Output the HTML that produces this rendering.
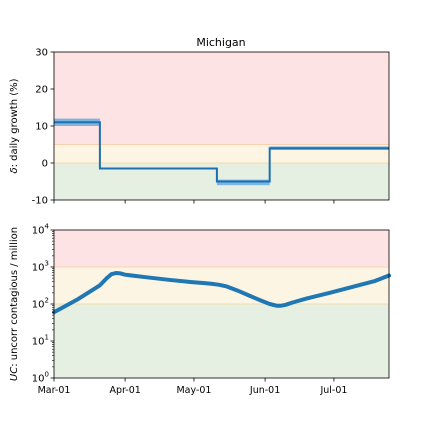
<!DOCTYPE html>
<html><head><meta charset="utf-8"><style>
body{margin:0;background:#fff}
svg{font-family:"DejaVu Sans","Liberation Sans",sans-serif}
</style></head><body>
<svg id="c" width="432" height="432" xmlns="http://www.w3.org/2000/svg">
<text x="221" y="46" font-size="11" text-anchor="middle">Michigan</text>
<g id="topPanel"></g>
<g id="botPanel"></g>
<text transform="translate(17,126) rotate(-90)" font-size="10" text-anchor="middle"><tspan font-style="italic">δ</tspan>: daily growth (%)</text>
<text transform="translate(17,304) rotate(-90)" font-size="10" text-anchor="middle"><tspan font-style="italic">UC</tspan>: uncorr contagious / million</text>
</svg>
<script>
const xTickLabels=["Mar-01","Apr-01","May-01","Jun-01","Jul-01"];
const xTickDays=[0,31,61,92,122];
const stepStart=[0,20,71,94];
const stepEnd=[20,71,94,146];
const stepValue=[11,-1.5,-5,4];
const stepLow=[10,-1.5,-6,3.5];
const stepHigh=[12,-1.5,-4.5,4.5];
const topTicks=[-10,0,10,20,30];
const ucDays=[0,10,20,23,25,27,29,31,40,50,60,65,69,72,75,80,85,90,94,97,99,101,104,110,120,130,140,146];
const ucValues=[60,130,320,500,640,690,670,620,530,450,390,370,350,330,300,230,170,125,100,90,90,95,110,140,200,290,420,590];
const botTicks=[0,1,2,3,4];
const NS="http://www.w3.org/2000/svg";
const X0=54,X1=389,D1=146;
const x=d=>X0+(X1-X0)*d/D1;
const yT=v=>200-(v+10)*148/40;
const yB=v=>378-Math.log10(v)*37;
function el(p,t,a){const e=document.createElementNS(NS,t);for(const k in a)e.setAttribute(k,a[k]);p.appendChild(e);return e;}
const gTop=document.getElementById('topPanel'),gBot=document.getElementById('botPanel');
let r=el(gTop,'rect',{x:X0,y:52,width:X1-X0,height:yT(5)-52,fill:'#fde3e3'});


r=el(gTop,'rect',{x:X0,y:yT(5),width:X1-X0,height:yT(0)-yT(5),fill:'#fdf5e4'});


r=el(gTop,'rect',{x:X0,y:yT(0),width:X1-X0,height:200-yT(0),fill:'#e5f0e2'});


el(gTop,'line',{x1:X0,x2:X1,y1:yT(5),y2:yT(5),stroke:'#fbd0b0','stroke-width':1});
el(gTop,'line',{x1:X0,x2:X1,y1:yT(0),y2:yT(0),stroke:'#f3dcb0','stroke-width':1});
for(let i=0;i<stepStart.length;i++){
 if(stepHigh[i]>stepLow[i]){
  const b=el(gTop,'rect',{x:x(stepStart[i]),y:yT(stepHigh[i]),width:x(stepEnd[i])-x(stepStart[i]),height:yT(stepLow[i])-yT(stepHigh[i]),fill:'#5fa8e0','fill-opacity':0.8});
  
  
 }
}
let d='';
for(let i=0;i<stepStart.length;i++){d+=(i?'L':'M')+x(stepStart[i])+','+yT(stepValue[i])+'L'+x(stepEnd[i])+','+yT(stepValue[i]);}
let p=el(gTop,'path',{d:d,fill:'none',stroke:'#1f6fb0','stroke-width':2});


el(gTop,'rect',{x:X0,y:52,width:X1-X0,height:148,fill:'none',stroke:'#000','stroke-width':0.8});
topTicks.forEach(v=>{
 el(gTop,'line',{x1:X0-3.5,x2:X0,y1:yT(v),y2:yT(v),stroke:'#000','stroke-width':0.8});
 const t=el(gTop,'text',{x:X0-6,y:yT(v)+3.5,'font-size':10,'text-anchor':'end'});t.textContent=v;
 
 
});
xTickDays.forEach(dd=>el(gTop,'line',{x1:x(dd),x2:x(dd),y1:200,y2:203.5,stroke:'#000','stroke-width':0.8}));
r=el(gBot,'rect',{x:X0,y:230,width:X1-X0,height:yB(1000)-230,fill:'#fde3e3'});


r=el(gBot,'rect',{x:X0,y:yB(1000),width:X1-X0,height:yB(100)-yB(1000),fill:'#fdf5e4'});


r=el(gBot,'rect',{x:X0,y:yB(100),width:X1-X0,height:378-yB(100),fill:'#e5f0e2'});


el(gBot,'line',{x1:X0,x2:X1,y1:yB(1000),y2:yB(1000),stroke:'#fbd0b0','stroke-width':1});
el(gBot,'line',{x1:X0,x2:X1,y1:yB(100),y2:yB(100),stroke:'#f3dcb0','stroke-width':1});
d='';
ucDays.forEach((dd,i)=>{d+=(i?'L':'M')+x(dd).toFixed(1)+','+yB(ucValues[i]).toFixed(1);});
p=el(gBot,'path',{d:d,fill:'none',stroke:'#1f77b4','stroke-width':4,'stroke-linejoin':'round','stroke-linecap':'round'});


el(gBot,'rect',{x:X0,y:230,width:X1-X0,height:148,fill:'none',stroke:'#000','stroke-width':0.8});
botTicks.forEach(e=>{
 el(gBot,'line',{x1:X0-3.5,x2:X0,y1:yB(10**e),y2:yB(10**e),stroke:'#000','stroke-width':0.8});
 const t=el(gBot,'text',{x:X0-5,y:yB(10**e)+3.5,'font-size':10,'text-anchor':'end'});
 t.innerHTML='10<tspan dy="-5" font-size="7">'+e+'</tspan>';
 
 
 if(e<4)for(let m=2;m<10;m++){const yy=yB(m*10**e);el(gBot,'line',{x1:X0-2,x2:X0,y1:yy,y2:yy,stroke:'#000','stroke-width':0.6});}
});
xTickDays.forEach((dd,i)=>{
 el(gBot,'line',{x1:x(dd),x2:x(dd),y1:378,y2:381.5,stroke:'#000','stroke-width':0.8});
 const t=el(gBot,'text',{x:x(dd),y:393,'font-size':9.5,'text-anchor':'middle'});t.textContent=xTickLabels[i];
 
 
});
</script>
</body></html>
